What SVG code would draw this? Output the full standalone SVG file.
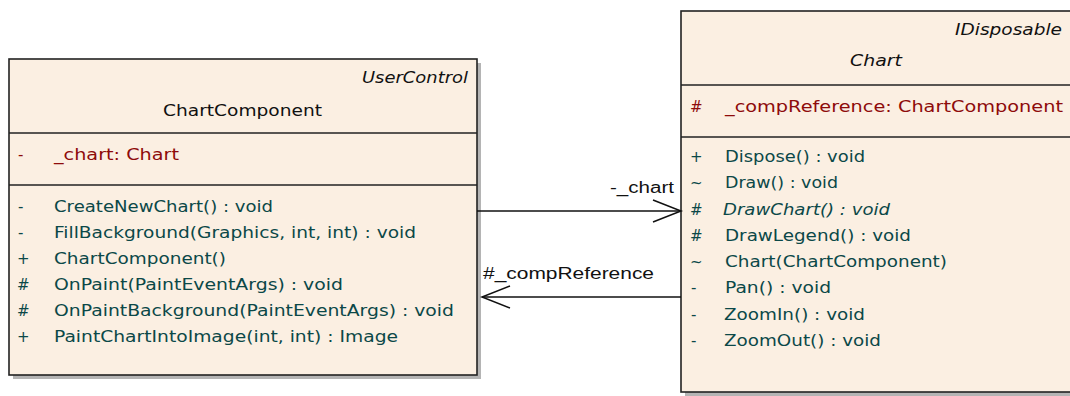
<svg xmlns="http://www.w3.org/2000/svg" width="1070" height="396" viewBox="0 0 1070 396">
  <style>
    .box { fill: #FBEFE2; stroke: #222; stroke-width: 1.6; }
    .shadow { fill: #b4b4b4; }
    .sep { stroke: #222; stroke-width: 1.5; }
    text { font-family: "DejaVu Sans", "Liberation Sans", sans-serif; font-size: 15px; }
    .hdr { fill: #111; }
    .stereo { fill: #111; font-style: italic; }
    .attr { fill: #8E0B0B; }
    .op { fill: #0B4848; }
    .abs { font-style: italic; }
    .edge { stroke: #111; stroke-width: 1.5; fill: none; }
    .lbl { font-family: "Liberation Sans", Arial, sans-serif; font-size: 16px; fill: #111; }
  </style>
  <defs>
    <marker id="open" markerUnits="userSpaceOnUse" markerWidth="32" markerHeight="26" refX="29" refY="12" orient="auto">
      <path d="M1,1 L29,12 L1,23" fill="none" stroke="#111" stroke-width="1.5"/>
    </marker>
  </defs>

  <!-- ChartComponent class -->
  <g id="ChartComponent">
    <rect class="shadow" x="13" y="63" width="468" height="316"/>
    <rect class="box" x="9" y="59" width="468" height="316"/>
    <line class="sep" x1="9" y1="133" x2="477" y2="133"/>
    <line class="sep" x1="9" y1="185" x2="477" y2="185"/>
    <text class="stereo" x="362" y="83" textLength="106" lengthAdjust="spacingAndGlyphs">UserControl</text>
    <text class="hdr" x="163" y="116" textLength="159" lengthAdjust="spacingAndGlyphs">ChartComponent</text>
    <text class="attr" x="18" y="160">-</text>
    <text class="attr" x="54" y="160" textLength="125" lengthAdjust="spacingAndGlyphs">_chart:  Chart</text>
    <text class="op" x="18" y="212">-</text>
    <text class="op" x="54" y="212" textLength="219" lengthAdjust="spacingAndGlyphs">CreateNewChart() : void</text>
    <text class="op" x="18" y="238">-</text>
    <text class="op" x="54" y="238" textLength="362" lengthAdjust="spacingAndGlyphs">FillBackground(Graphics, int, int) : void</text>
    <text class="op" x="17" y="264">+</text>
    <text class="op" x="54" y="264" textLength="172" lengthAdjust="spacingAndGlyphs">ChartComponent()</text>
    <text class="op" x="17" y="290">#</text>
    <text class="op" x="54" y="290" textLength="289" lengthAdjust="spacingAndGlyphs">OnPaint(PaintEventArgs) : void</text>
    <text class="op" x="17" y="316">#</text>
    <text class="op" x="54" y="316" textLength="400" lengthAdjust="spacingAndGlyphs">OnPaintBackground(PaintEventArgs) : void</text>
    <text class="op" x="17" y="342">+</text>
    <text class="op" x="54" y="342" textLength="344" lengthAdjust="spacingAndGlyphs">PaintChartIntoImage(int, int) : Image</text>
  </g>

  <!-- Chart class -->
  <g id="Chart">
    <rect class="shadow" x="685" y="15" width="392" height="381"/>
    <rect class="box" x="681" y="11" width="392" height="381"/>
    <line class="sep" x1="681" y1="85" x2="1073" y2="85"/>
    <line class="sep" x1="681" y1="137" x2="1073" y2="137"/>
    <text class="stereo" x="955" y="35" textLength="107" lengthAdjust="spacingAndGlyphs">IDisposable</text>
    <text class="stereo" x="850" y="66" textLength="52" lengthAdjust="spacingAndGlyphs">Chart</text>
    <text class="attr" x="690" y="112">#</text>
    <text class="attr" x="725" y="112" textLength="338" lengthAdjust="spacingAndGlyphs">_compReference:  ChartComponent</text>
    <text class="op" x="690" y="162">+</text>
    <text class="op" x="725" y="162" textLength="140" lengthAdjust="spacingAndGlyphs">Dispose() : void</text>
    <text class="op" x="690" y="188">~</text>
    <text class="op" x="725" y="188" textLength="113" lengthAdjust="spacingAndGlyphs">Draw() : void</text>
    <text class="op" x="690" y="215">#</text>
    <text class="op abs" x="723" y="215" textLength="167" lengthAdjust="spacingAndGlyphs">DrawChart() : void</text>
    <text class="op" x="690" y="241">#</text>
    <text class="op" x="725" y="241" textLength="186" lengthAdjust="spacingAndGlyphs">DrawLegend() : void</text>
    <text class="op" x="690" y="267">~</text>
    <text class="op" x="725" y="267" textLength="222" lengthAdjust="spacingAndGlyphs">Chart(ChartComponent)</text>
    <text class="op" x="691" y="293">-</text>
    <text class="op" x="725" y="293" textLength="106" lengthAdjust="spacingAndGlyphs">Pan() : void</text>
    <text class="op" x="691" y="320">-</text>
    <text class="op" x="724" y="320" textLength="141" lengthAdjust="spacingAndGlyphs">ZoomIn() : void</text>
    <text class="op" x="691" y="346">-</text>
    <text class="op" x="724" y="346" textLength="157" lengthAdjust="spacingAndGlyphs">ZoomOut() : void</text>
  </g>

  <!-- associations -->
  <g id="connectors">
    <line class="edge" x1="477" y1="211" x2="681" y2="211" marker-end="url(#open)"/>
    <text class="lbl" x="610" y="193" textLength="64" lengthAdjust="spacingAndGlyphs">-_chart</text>
    <line class="edge" x1="681" y1="297" x2="482" y2="297" marker-end="url(#open)"/>
    <text class="lbl" x="483" y="279" textLength="171" lengthAdjust="spacingAndGlyphs">#_compReference</text>
  </g>
</svg>
